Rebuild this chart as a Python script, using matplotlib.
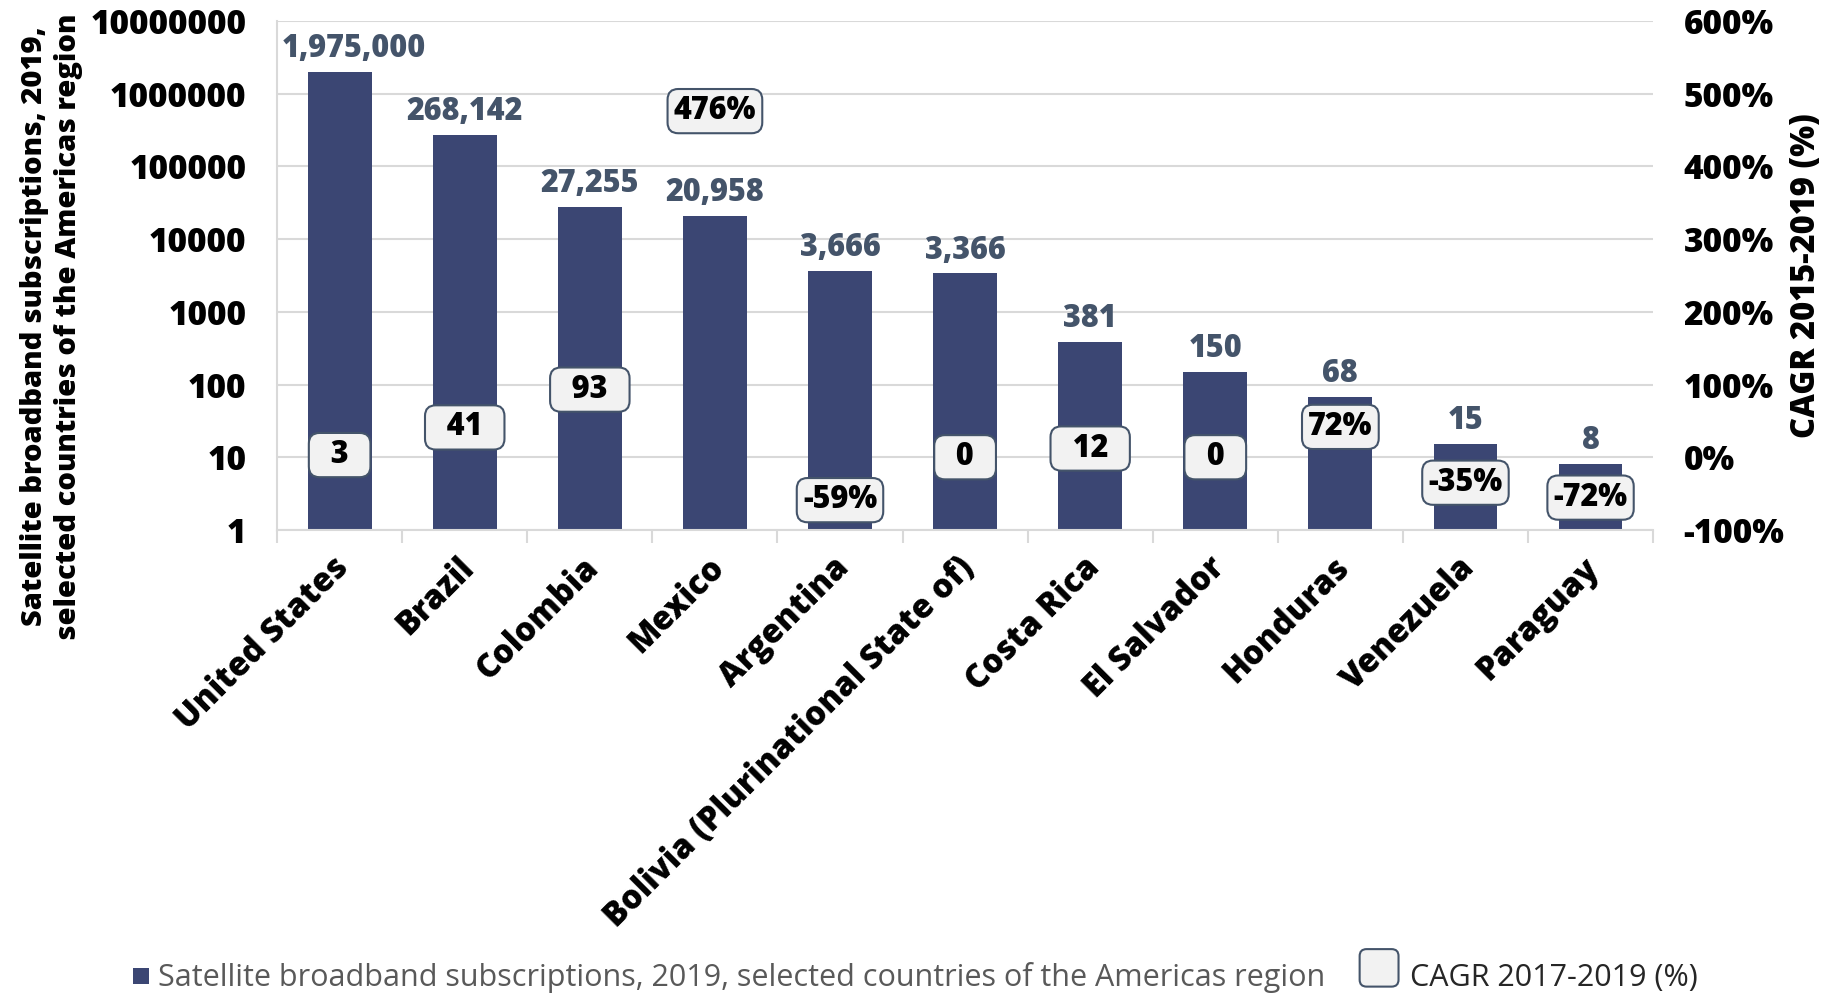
import matplotlib
matplotlib.use("Agg")
import matplotlib.pyplot as plt
import matplotlib.transforms as mtransforms
from matplotlib.patches import FancyBboxPatch, Patch
from matplotlib.legend_handler import HandlerBase
from matplotlib.ticker import FixedLocator, NullFormatter

# ---------------- data ----------------
countries = ["United States", "Brazil", "Colombia", "Mexico", "Argentina",
             "Bolivia (Plurinational State of)", "Costa Rica", "El Salvador",
             "Honduras", "Venezuela", "Paraguay"]
subscriptions = [1975000, 268142, 27255, 20958, 3666, 3366, 381, 150, 68, 15, 8]
cagr_values = [3, 41, 93, 476, -59, 0, 12, 0, 72, -35, -72]
cagr_labels = ["3", "41", "93", "476%", "-59%", "0", "12", "0", "72%", "-35%", "-72%"]
count_ticks = [1, 10, 100, 1000, 10000, 100000, 1000000, 10000000]
cagr_ticks = [-100, 0, 100, 200, 300, 400, 500, 600]
series_name = "Satellite broadband subscriptions, 2019, selected countries of the Americas region"
cagr_name = "CAGR 2017-2019 (%)"
left_title = "Satellite broadband subscriptions, 2019,\nselected countries of the Americas region"
right_title = "CAGR 2015-2019 (%)"

# ---------------- style ----------------
FONT = ["Open Sans", "DejaVu Sans"]
plt.rcParams["font.family"] = FONT
BAR = "#3B4673"
GRID = "#D9D9D9"
VAL = "#44546A"
BOX_FC = "#F2F2F2"
BOX_EC = "#44546A"
W = "extra bold"
label_shift_px = [0, 0, 0, 0, 0, 0, 0, 0, 22, 0, -12]  # label nudges (layout only)
value_shift_px = [14, 0, 0, 0, 0, 0, 0, 0, 0, 0, 0]

fig = plt.figure(figsize=(18.23, 9.93), dpi=100)
ax = fig.add_axes([0.152, 0.4663, 0.7548, 0.5126])

x = list(range(len(countries)))
ax.bar(x, subscriptions, width=0.51, color=BAR, zorder=2)
ax.set_yscale("log")
ax.set_ylim(1, 1e7)
ax.set_xlim(-0.5, len(countries) - 0.5)

ax.yaxis.set_major_locator(FixedLocator(count_ticks))
ax.set_yticks(count_ticks)
ax.set_yticklabels([str(v) for v in count_ticks], fontsize=24, fontweight=W)
ax.yaxis.set_minor_formatter(NullFormatter())
ax.tick_params(axis="y", which="both", length=0, pad=22)
ax.grid(axis="y", which="major", color=GRID, lw=1.5, zorder=0)

# x axis ticks
ax.set_xticks(x)
ax.set_xticklabels(countries, rotation=45, ha="right", va="top",
                   rotation_mode="anchor", fontsize=23.5, fontweight=W)
ax.set_xticks([i - 0.5 for i in range(len(countries) + 1)], minor=True)
ax.tick_params(axis="x", which="major", length=0, pad=15)
ax.tick_params(axis="x", which="minor", length=9, color=GRID, width=1.5)
shift = mtransforms.ScaledTranslation(-8 / 100, 0, fig.dpi_scale_trans)
for lab in ax.get_xticklabels():
    lab.set_transform(lab.get_transform() + shift)

for s in ["top", "right"]:
    ax.spines[s].set_visible(False)
for s in ["left", "bottom"]:
    ax.spines[s].set_color(GRID)
    ax.spines[s].set_linewidth(1.5)

# value labels
for xi, v, dx in zip(x, subscriptions, value_shift_px):
    ax.annotate(f"{v:,}", (xi, v), xytext=(dx * 0.72, 5), textcoords="offset points",
                ha="center", va="bottom", fontsize=22, fontweight=W,
                color=VAL, zorder=4)

ax.set_ylabel(left_title, fontsize=21, fontweight=W, linespacing=1.25)
ax.yaxis.set_label_coords(-0.164, 0.40)
ax.yaxis.label.set_verticalalignment("center")

# secondary axis
ax2 = ax.twinx()
ax2.set_ylim(min(cagr_ticks), max(cagr_ticks))
ax2.set_yticks(cagr_ticks)
ax2.set_yticklabels([f"{v}%" for v in cagr_ticks], fontsize=24, fontweight=W)
ax2.tick_params(axis="y", length=0, pad=22)
for s in ax2.spines.values():
    s.set_visible(False)
ax2.set_ylabel(right_title, fontsize=23.5, fontweight=W)
ax2.yaxis.set_label_coords(1.111, 0.5)
ax2.yaxis.label.set_verticalalignment("center")

for xi, v, lab, dy in zip(x, cagr_values, cagr_labels, label_shift_px):
    txt = lab if lab.endswith("%") else f"  {lab}  "
    ax2.annotate(txt, (xi, v), xytext=(0, -dy * 0.72), textcoords="offset points",
                 ha="center", va="center", fontsize=22, fontweight=W,
                 color="black", zorder=5,
                 bbox=dict(boxstyle="round,pad=0.2,rounding_size=0.35",
                           fc=BOX_FC, ec=BOX_EC, lw=1.5))


# legend
class BoxHandler(HandlerBase):
    def __init__(self, w, h, dx, dy, rounding):
        super().__init__()
        self.w, self.h, self.dx, self.dy, self.r = w, h, dx, dy, rounding

    def create_artists(self, legend, orig_handle, xdescent, ydescent,
                       width, height, fontsize, trans):
        x0 = -xdescent + (width - self.w) / 2 + self.dx
        y0 = -ydescent + (height - self.h) / 2 + self.dy
        style = f"round,pad=0,rounding_size={self.r}" if self.r else "square,pad=0"
        p = FancyBboxPatch((x0, y0), self.w, self.h, boxstyle=style,
                           facecolor=orig_handle.get_facecolor(),
                           edgecolor=orig_handle.get_edgecolor(),
                           linewidth=orig_handle.get_linewidth(), transform=trans)
        return [p]


h1 = Patch(facecolor=BAR, edgecolor=BAR, linewidth=0)
h2 = Patch(facecolor=BOX_FC, edgecolor=BOX_EC, linewidth=1.5)
leg = fig.legend([h1, h2], [series_name, cagr_name], loc="lower left",
                 bbox_to_anchor=(121 / 1823, 0.0005), ncol=2, frameon=False,
                 fontsize=22, handlelength=1.0, handletextpad=0.2,
                 columnspacing=1.6, borderpad=0, borderaxespad=0,
                 handler_map={h1: BoxHandler(11.5, 11.5, 3.6, -1, 0),
                              h2: BoxHandler(28, 27, -7.2, 5, 5)})
leg.get_texts()[0].set_color("#595959")
leg.get_texts()[1].set_color("#262626")

fig.savefig("out.png", dpi=100)
